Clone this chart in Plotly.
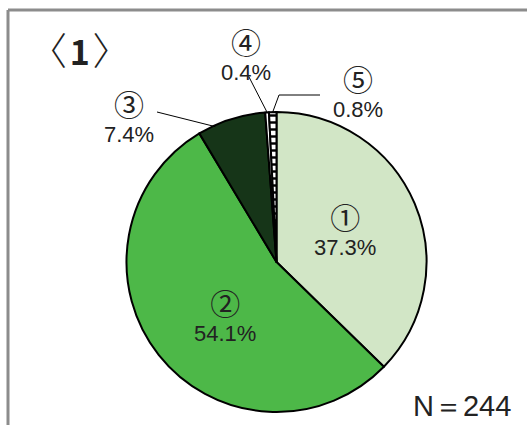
import math
import plotly.graph_objects as go

W, H = 527, 425

labels = ["①", "②", "③", "④", "⑤"]
values = [37.3, 54.1, 7.4, 0.4, 0.8]
colors = ["#d2e6c6", "#4db848", "#163518", "#ffffff", "#ffffff"]
patterns = ["", "", "", "", "-"]
n_total = 244
title_num = "1"

# pie geometry (pixels)
CX, CY, R = 276.5, 262.0, 150.0

def px(x):
    return x / W

def py(y):
    return 1 - y / H

def slice_point(i, frac=0.5, rfac=1.0):
    tot = sum(values)
    start = sum(values[:i]) / tot * 360
    ang = start + frac * values[i] / tot * 360
    a = math.radians(ang)
    return CX + R * rfac * math.sin(a), CY - R * rfac * math.cos(a)

fig = go.Figure(go.Pie(
    labels=labels,
    values=values,
    sort=False,
    direction="clockwise",
    rotation=0,
    textinfo="none",
    hoverinfo="label+percent",
    showlegend=False,
    marker=dict(
        colors=colors,
        line=dict(color="#000000", width=2),
        pattern=dict(shape=patterns, fgcolor="#000000", bgcolor="#ffffff",
                     size=7, solidity=0.35),
    ),
    domain=dict(x=[px(CX - R), px(CX + R)], y=[py(CY + R), py(CY - R)]),
))

font_lbl = "Liberation Sans, Arial, sans-serif"
txt_col = "#222222"

# label placements (pixel positions of the two-line label centres)
label_pos = [(345, 227), (225, 313), (129, 114), (246, 52), (358, 89)]

annotations = []
for i, (x, y) in enumerate(label_pos):
    txt = (f"<span style='font-family:Noto Sans CJK JP;font-size:30px'>{labels[i]}</span>"
           f"<br><span style='font-size:22px'>{values[i]:.1f}%</span>")
    annotations.append(dict(x=px(x), y=py(y), xref="paper", yref="paper",
                            xanchor="center", yanchor="middle",
                            text=txt, showarrow=False,
                            font=dict(family=font_lbl, size=20, color=txt_col)))

title_text = (f"<span style='font-size:38px;font-weight:300'>〈</span>"
              f"<span style='font-size:12px'> </span><b>{title_num}</b>"
              f"<span style='font-size:12px'> </span>"
              f"<span style='font-size:38px;font-weight:300'>〉</span>")
annotations.append(dict(x=px(80), y=py(49), xref="paper", yref="paper",
                        xanchor="center", yanchor="middle",
                        text=title_text, showarrow=False,
                        font=dict(family="Noto Sans CJK JP, sans-serif", size=34, color="#222222")))
annotations.append(dict(x=px(513), y=py(406), xref="paper", yref="paper",
                        xanchor="right", yanchor="middle", text=f"N＝{n_total}", showarrow=False,
                        font=dict(family="Liberation Sans, Arial, sans-serif",
                                  size=29, color=txt_col)))

shapes = []
# frame (top and left edges visible)
shapes.append(dict(type="line", xref="paper", yref="paper",
                   x0=px(8), y0=py(10), x1=px(540), y1=py(10),
                   line=dict(color="#8c8c8c", width=3)))
shapes.append(dict(type="line", xref="paper", yref="paper",
                   x0=px(8), y0=py(10), x1=px(8), y1=py(440),
                   line=dict(color="#8c8c8c", width=3)))

# leader lines
ex, ey = slice_point(2, frac=0.25, rfac=0.99)
shapes.append(dict(type="line", xref="paper", yref="paper",
                   x0=px(157), y0=py(112), x1=px(ex), y1=py(ey),
                   line=dict(color="#000000", width=1)))
ex, ey = slice_point(3, rfac=1.0)
shapes.append(dict(type="line", xref="paper", yref="paper",
                   x0=px(249), y0=py(77), x1=px(ex), y1=py(ey),
                   line=dict(color="#000000", width=1)))
ex, ey = slice_point(4, rfac=1.0)
shapes.append(dict(type="path", xref="paper", yref="paper",
                   path=f"M {px(320)},{py(95)} L {px(279)},{py(95)} L {px(ex)},{py(ey)}",
                   line=dict(color="#000000", width=1)))

fig.update_layout(
    width=W, height=H,
    margin=dict(l=0, r=0, t=0, b=0),
    paper_bgcolor="#ffffff",
    plot_bgcolor="#ffffff",
    annotations=annotations,
    shapes=shapes,
)

fig.write_html("out.html")
